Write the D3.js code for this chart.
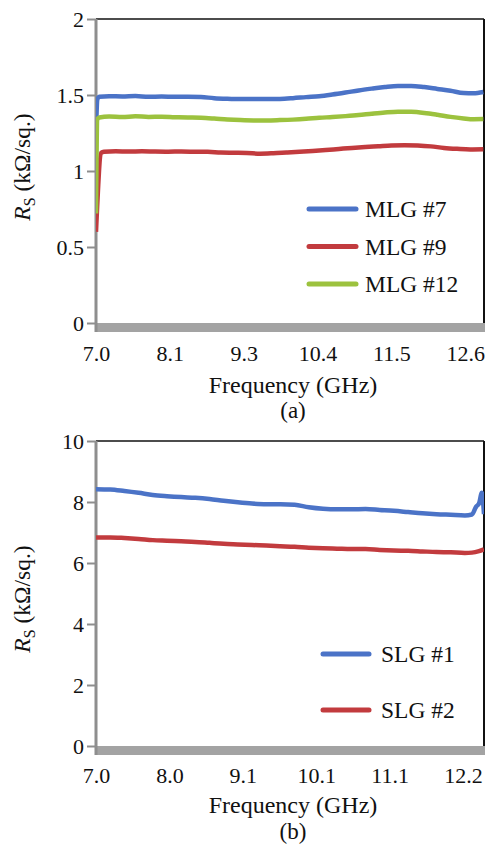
<!DOCTYPE html>
<html>
<head>
<meta charset="utf-8">
<script src="https://cdn.jsdelivr.net/npm/d3@7"></script>
<style>
  html, body { margin: 0; padding: 0; background: #fff; }
  svg { display: block; }
  svg text { fill: #111; }
</style>
</head>
<body>
<svg id="chart" width="487" height="848"></svg>
<script>
// ---- Panel (a): multilayer graphene sheet resistance ----
const freqA = [7.00, 7.02, 7.05, 7.2, 7.4, 7.6, 7.8, 8.0, 8.2, 8.4, 8.6, 8.8, 9.0, 9.2, 9.4, 9.6, 9.8, 10.0, 10.2, 10.4, 10.6, 10.8, 11.0, 11.2, 11.4, 11.6, 11.8, 12.0, 12.2, 12.4, 12.6, 12.75, 12.9];
const mlg7 = [1.25, 1.47, 1.488, 1.492, 1.490, 1.493, 1.488, 1.490, 1.488, 1.489, 1.487, 1.479, 1.475, 1.473, 1.473, 1.473, 1.474, 1.479, 1.486, 1.492, 1.503, 1.516, 1.530, 1.542, 1.553, 1.560, 1.560, 1.552, 1.540, 1.528, 1.513, 1.511, 1.520];
const mlg12 = [0.72, 1.34, 1.352, 1.358, 1.355, 1.360, 1.356, 1.357, 1.354, 1.352, 1.350, 1.345, 1.339, 1.335, 1.333, 1.333, 1.335, 1.338, 1.343, 1.350, 1.355, 1.361, 1.368, 1.377, 1.385, 1.390, 1.389, 1.382, 1.370, 1.356, 1.346, 1.341, 1.342];
const freqA9 = [7.00, 7.08, 7.12, 7.3, 7.5, 7.7, 7.9, 8.1, 8.3, 8.5, 8.7, 8.9, 9.1, 9.3, 9.5, 9.7, 9.9, 10.1, 10.3, 10.5, 10.7, 10.9, 11.1, 11.3, 11.5, 11.7, 11.9, 12.1, 12.3, 12.5, 12.7, 12.9];
const mlg9 = [0.60, 1.12, 1.127, 1.130, 1.128, 1.130, 1.128, 1.127, 1.128, 1.127, 1.126, 1.122, 1.120, 1.118, 1.114, 1.117, 1.122, 1.127, 1.132, 1.138, 1.145, 1.152, 1.158, 1.163, 1.168, 1.170, 1.168, 1.162, 1.152, 1.146, 1.142, 1.143];
const xTicksA = [7.0, 8.125, 9.25, 10.375, 11.5, 12.625];
const xTickLabelsA = ["7.0", "8.1", "9.3", "10.4", "11.5", "12.6"];
const yTicksA = [0, 0.5, 1, 1.5, 2];
const yTickLabelsA = ["0", "0.5", "1", "1.5", "2"];
const seriesNamesA = ["MLG #7", "MLG #9", "MLG #12"];

// ---- Panel (b): single-layer graphene sheet resistance ----
const freqB1 = [7.0, 7.2, 7.4, 7.6, 7.8, 8.0, 8.2, 8.4, 8.6, 8.8, 9.0, 9.2, 9.4, 9.6, 9.8, 10.0, 10.2, 10.4, 10.6, 10.8, 11.0, 11.2, 11.4, 11.6, 11.8, 12.0, 12.2, 12.3, 12.36, 12.4, 12.44, 12.47];
const slg1 = [8.42, 8.41, 8.36, 8.30, 8.23, 8.19, 8.16, 8.14, 8.10, 8.04, 7.99, 7.95, 7.93, 7.93, 7.91, 7.83, 7.78, 7.76, 7.76, 7.77, 7.74, 7.71, 7.67, 7.63, 7.60, 7.58, 7.56, 7.59, 7.85, 7.95, 8.30, 7.60];
const freqB2 = [7.0, 7.2, 7.4, 7.6, 7.8, 8.0, 8.2, 8.4, 8.6, 8.8, 9.0, 9.2, 9.4, 9.6, 9.8, 10.0, 10.2, 10.4, 10.6, 10.8, 11.0, 11.2, 11.4, 11.6, 11.8, 12.0, 12.2, 12.3, 12.4, 12.47];
const slg2 = [6.84, 6.84, 6.82, 6.79, 6.75, 6.73, 6.71, 6.69, 6.66, 6.63, 6.61, 6.59, 6.57, 6.55, 6.53, 6.50, 6.48, 6.47, 6.46, 6.46, 6.43, 6.41, 6.40, 6.38, 6.36, 6.35, 6.33, 6.34, 6.39, 6.45];
const xTicksB = [7.0, 8.035, 9.07, 10.105, 11.14, 12.175];
const xTickLabelsB = ["7.0", "8.0", "9.1", "10.1", "11.1", "12.2"];
const yTicksB = [0, 2, 4, 6, 8, 10];
const yTickLabelsB = ["0", "2", "4", "6", "8", "10"];
const seriesNamesB = ["SLG #1", "SLG #2"];

const colors = { blue: "#4b73c7", red: "#c23b3e", green: "#9cc23e" };
const fontFamily = "'Liberation Serif', 'Times New Roman', 'Liberation Sans', sans-serif";

const svg = d3.select("#chart");

function drawPanel(cfg) {
  const g = svg.append("g").attr("font-family", fontFamily);
  const { left, right, top, bottom } = cfg.box;
  const x = d3.scaleLinear().domain(cfg.xDomain).range([left, right]);
  const y = d3.scaleLinear().domain(cfg.yDomain).range([bottom, top]);

  // frame: black top and right edges
  g.append("line").attr("x1", left).attr("x2", right).attr("y1", top).attr("y2", top)
    .attr("stroke", "#111").attr("stroke-width", 1.6);
  g.append("line").attr("x1", right).attr("x2", right).attr("y1", top).attr("y2", bottom)
    .attr("stroke", "#111").attr("stroke-width", 2);

  // thick grey base bar along the x axis
  g.append("rect").attr("x", left - 1).attr("y", bottom).attr("width", right - left + 2).attr("height", 9)
    .attr("fill", "#a3a3a3");

  // y axis with outward grey ticks
  const yAxis = d3.axisLeft(y).tickValues(cfg.yTicks).tickSize(9).tickPadding(3)
    .tickFormat((d, i) => cfg.yTickLabels[i]);
  const ya = g.append("g").attr("transform", `translate(${left},0)`).call(yAxis)
    .attr("font-family", fontFamily).attr("font-size", 22);
  ya.select(".domain").attr("stroke", "#8e8e8e").attr("stroke-width", 3)
    .attr("d", `M0,${top}V${bottom + 9}`);
  ya.selectAll(".tick line").attr("stroke", "#8e8e8e").attr("stroke-width", 2);
  ya.selectAll(".tick text").attr("fill", "#111");

  // x axis labels (no visible ticks)
  const xAxis = d3.axisBottom(x).tickValues(cfg.xTicks).tickSize(0).tickPadding(0)
    .tickFormat((d, i) => cfg.xTickLabels[i]);
  const xa = g.append("g").attr("transform", `translate(0,${bottom})`).call(xAxis)
    .attr("font-family", fontFamily).attr("font-size", 22);
  xa.select(".domain").remove();
  xa.selectAll(".tick text").attr("fill", "#111")
    .attr("y", cfg.xLabelOffset).attr("dy", 0);

  // data lines
  const clipId = "clip-" + cfg.id;
  svg.append("clipPath").attr("id", clipId).append("rect")
    .attr("x", left).attr("y", top).attr("width", right - left).attr("height", bottom - top);
  const line = d3.line().x(d => x(d[0])).y(d => y(d[1])).curve(d3.curveMonotoneX);
  const lg = g.append("g").attr("clip-path", `url(#${clipId})`);
  cfg.series.forEach(s => {
    const pts = s.freq.map((f, i) => [f, s.values[i]]);
    lg.append("path").datum(pts).attr("d", line).attr("fill", "none")
      .attr("stroke", s.color).attr("stroke-width", 4.5)
      .attr("stroke-linejoin", "round").attr("stroke-linecap", "butt");
  });

  // legend
  cfg.series.forEach((s, i) => {
    const ly = cfg.legend.y0 + i * cfg.legend.dy;
    g.append("line").attr("x1", cfg.legend.x0).attr("x2", cfg.legend.x1)
      .attr("y1", ly).attr("y2", ly).attr("stroke", s.color).attr("stroke-width", 5)
      .attr("stroke-linecap", "round");
    g.append("text").attr("x", cfg.legend.tx).attr("y", ly + 8)
      .attr("font-size", 23.5).text(s.name);
  });

  // y axis title: R_S (kΩ/sq.)
  const yt = g.append("text")
    .attr("transform", `translate(${cfg.yTitle.x},${cfg.yTitle.y}) rotate(-90)`)
    .attr("text-anchor", "middle").attr("font-size", 23.5);
  yt.append("tspan").attr("font-style", "italic").text("R");
  yt.append("tspan").attr("font-size", 16).attr("dy", 5).text("S");
  yt.append("tspan").attr("dy", -5).text(" (kΩ/sq.)");

  // x axis title and panel tag
  g.append("text").attr("x", cfg.xTitle.x).attr("y", cfg.xTitle.y)
    .attr("text-anchor", "middle").attr("font-size", 24).text("Frequency (GHz)");
  g.append("text").attr("x", cfg.xTitle.x).attr("y", cfg.tagY)
    .attr("text-anchor", "middle").attr("font-size", 23).text(cfg.tag);
}

drawPanel({
  id: "a",
  box: { left: 96, right: 484, top: 19, bottom: 323 },
  xDomain: [7.0, 12.91],
  yDomain: [0, 2],
  xTicks: xTicksA, xTickLabels: xTickLabelsA,
  yTicks: yTicksA, yTickLabels: yTickLabelsA,
  xLabelOffset: 38,
  series: [
    { name: seriesNamesA[0], freq: freqA, values: mlg7, color: colors.blue },
    { name: seriesNamesA[1], freq: freqA9, values: mlg9, color: colors.red },
    { name: seriesNamesA[2], freq: freqA, values: mlg12, color: colors.green }
  ],
  legend: { x0: 309, x1: 356, tx: 365, y0: 209, dy: 37.5 },
  yTitle: { x: 30, y: 167 },
  xTitle: { x: 293, y: 393 },
  tagY: 418,
  tag: "(a)"
});

drawPanel({
  id: "b",
  box: { left: 96, right: 484, top: 441, bottom: 746 },
  xDomain: [7.0, 12.47],
  yDomain: [0, 10],
  xTicks: xTicksB, xTickLabels: xTickLabelsB,
  yTicks: yTicksB, yTickLabels: yTickLabelsB,
  xLabelOffset: 37,
  series: [
    { name: seriesNamesB[0], freq: freqB1, values: slg1, color: colors.blue },
    { name: seriesNamesB[1], freq: freqB2, values: slg2, color: colors.red }
  ],
  legend: { x0: 323, x1: 369, tx: 381, y0: 654, dy: 56 },
  yTitle: { x: 30, y: 599 },
  xTitle: { x: 293, y: 813 },
  tagY: 839,
  tag: "(b)"
});
</script>
</body>
</html>
